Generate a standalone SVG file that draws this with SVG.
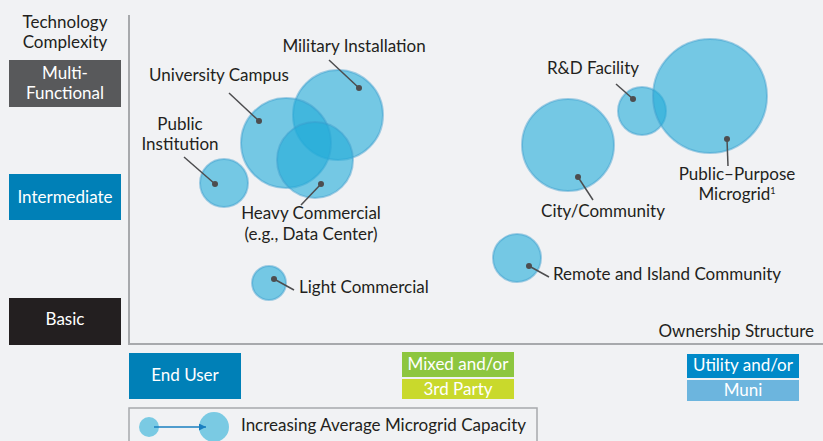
<svg xmlns="http://www.w3.org/2000/svg" width="823" height="441" viewBox="0 0 823 441">
<defs>
<style>
.t{font-family:Lato,"Open Sans","Liberation Sans",sans-serif;font-size:17px;fill:#231f20}
.w{font-family:Lato,"Open Sans","Liberation Sans",sans-serif;font-size:17px;fill:#ffffff;text-anchor:middle}
.m{text-anchor:middle}
.b{fill:#22acd8;fill-opacity:0.6;stroke:#3a9ccc;stroke-opacity:0.45;stroke-width:2}
.ld{stroke:#4d4d4f;stroke-width:1.5;fill:none}
.dot{fill:#4d4d4f}
.ax{stroke:#a7a9ac;stroke-width:2;fill:none}
</style>
<marker id="ah" viewBox="0 0 10 10" refX="10" refY="5" markerWidth="7" markerHeight="7" orient="auto" markerUnits="userSpaceOnUse">
<path d="M0,0 L10,5 L0,10 z" fill="#1a7fc0"/>
</marker>
</defs>
<rect width="823" height="441" fill="#f1f2f4"/>
<g id="axes">
<path class="ax" d="M129,15 V344 H823"/>
<text class="t m" x="65" y="28">Technology</text>
<text class="t m" x="65" y="48">Complexity</text>
<text class="t" x="814" y="337" text-anchor="end">Ownership Structure</text>
</g>
<g id="y-multi"><rect x="9" y="60" width="112" height="47" fill="#58595b"/><text class="w" x="65" y="79">Multi-</text><text class="w" x="65" y="99">Functional</text></g>
<g id="y-intermediate"><rect x="9" y="174" width="112" height="46" fill="#0080b7"/><text class="w" x="65" y="203">Intermediate</text></g>
<g id="y-basic"><rect x="9" y="298" width="112" height="47" fill="#231f20"/><text class="w" x="65" y="325">Basic</text></g>
<g id="x-enduser"><rect x="129" y="353" width="112" height="46" fill="#0080b7"/><text class="w" x="185" y="381">End User</text></g>
<g id="x-mixed"><rect x="402" y="352" width="112" height="25" fill="#8dc63f"/><rect x="402" y="379" width="112" height="20" fill="#c9d92c"/><text class="w" x="458" y="370">Mixed and/or</text><text class="w" x="458" y="395">3rd Party</text></g>
<g id="x-utility"><rect x="687" y="354" width="112" height="24" fill="#0089c8"/><rect x="687" y="380" width="112" height="21" fill="#6cb5de"/><text class="w" x="743" y="371">Utility and/or</text><text class="w" x="743" y="396">Muni</text></g>
<g id="bubbles">
<g id="military"><circle class="b" cx="338" cy="115" r="45"/></g>
<g id="university"><circle class="b" cx="286" cy="143" r="45"/></g>
<g id="heavy"><circle class="b" cx="315" cy="160" r="38"/></g>
<g id="public-inst"><circle class="b" cx="224" cy="183" r="24"/></g>
<g id="light"><circle class="b" cx="269" cy="283" r="17"/></g>
<g id="city"><circle class="b" cx="568" cy="145" r="46"/></g>
<g id="rnd"><circle class="b" cx="642" cy="111" r="24"/></g>
<g id="public-purpose"><circle class="b" cx="710" cy="96" r="57"/></g>
<g id="remote"><circle class="b" cx="517" cy="258" r="24"/></g>
</g>
<g id="connectors">
<path class="ld" d="M329,60 L359,88"/><circle class="dot" cx="359" cy="88" r="3"/>
<path class="ld" d="M229,93 L259,121"/><circle class="dot" cx="259" cy="121" r="3"/>
<path class="ld" d="M184,157 L215,184"/><circle class="dot" cx="215" cy="184" r="3"/>
<path class="ld" d="M321,184 L301,205"/><circle class="dot" cx="321" cy="184" r="3"/>
<path class="ld" d="M274,279 L294,290"/><circle class="dot" cx="274" cy="279" r="3"/>
<path class="ld" d="M616,84 L633,99"/><circle class="dot" cx="633" cy="99" r="3"/>
<path class="ld" d="M578,177 L593,200"/><circle class="dot" cx="578" cy="177" r="3"/>
<path class="ld" d="M727,139 L728,166"/><circle class="dot" cx="727" cy="139" r="3"/>
<path class="ld" d="M529,266 L549,277"/><circle class="dot" cx="529" cy="266" r="3"/>
</g>
<g id="labels">
<text class="t m" x="354" y="52">Military Installation</text>
<text class="t m" x="219" y="81">University Campus</text>
<text class="t m" x="180" y="130">Public</text>
<text class="t m" x="180" y="150">Institution</text>
<text class="t m" x="311" y="219">Heavy Commercial</text>
<text class="t m" x="311" y="240">(e.g., Data Center)</text>
<text class="t" x="299" y="293">Light Commercial</text>
<text class="t m" x="593" y="74">R&amp;D Facility</text>
<text class="t m" x="603" y="217">City/Community</text>
<text class="t m" x="737" y="180">Public–Purpose</text>
<text class="t m" x="737" y="200">Microgrid<tspan font-size="9" dy="-6">1</tspan></text>
<text class="t" x="553" y="280">Remote and Island Community</text>
</g>
<g id="legend">
<rect x="129" y="408" width="408" height="40" fill="none" stroke="#a7a9ac" stroke-width="1.5"/>
<circle cx="149" cy="427" r="10" fill="#7acae3"/>
<circle cx="214" cy="427" r="15" fill="#7acae3"/>
<path d="M154,427 L206,427" stroke="#1a7fc0" stroke-width="1.5" marker-end="url(#ah)"/>
<text class="t" x="241" y="431">Increasing Average Microgrid Capacity</text>
</g>
</svg>
